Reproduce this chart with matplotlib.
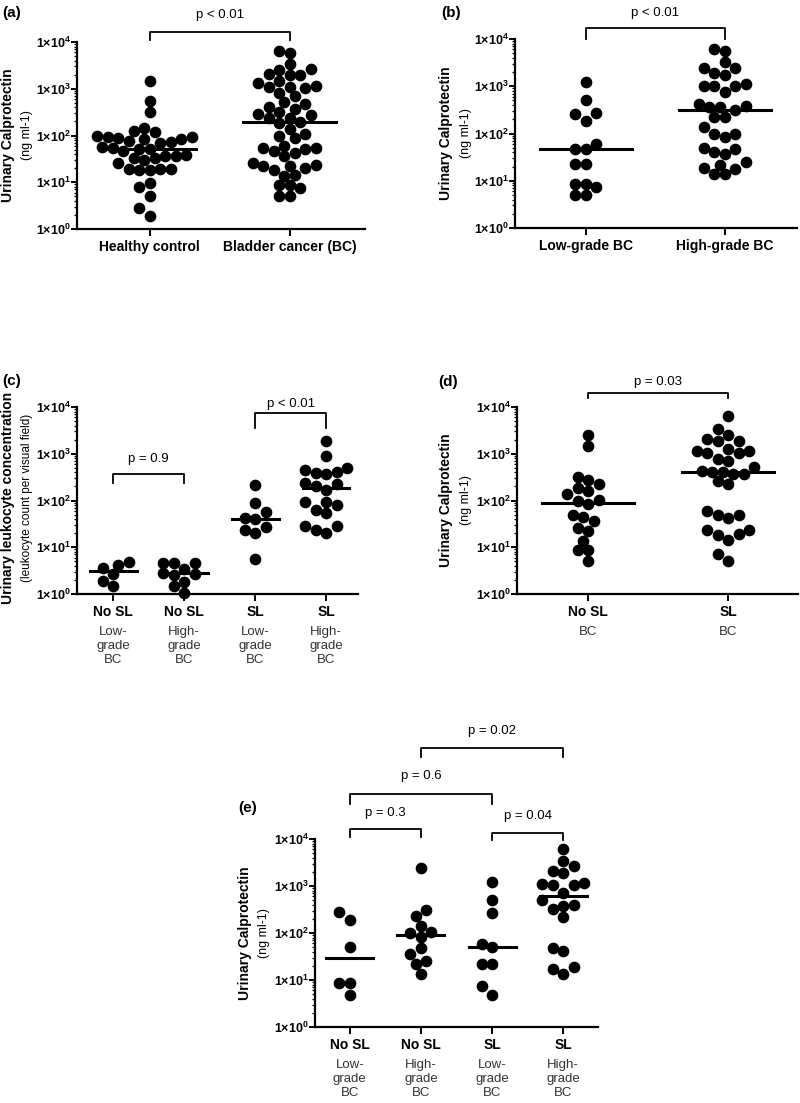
import numpy as np
import matplotlib
matplotlib.use("Agg")
import matplotlib.pyplot as plt
from matplotlib.ticker import FixedLocator, LogLocator, NullFormatter

plt.rcParams['font.family'] = ['Liberation Sans', 'DejaVu Sans']
plt.rcParams['mathtext.fontset'] = 'custom'
plt.rcParams['mathtext.rm'] = 'Liberation Sans'
plt.rcParams['mathtext.bf'] = 'Liberation Sans:bold'

W, H = 800, 1103   # output size in pixels (dpi 100)

# ---- values (ng/ml or cells per field)
a_healthy = [1465, 547, 313, 142, 127, 117, 98, 94, 94, 89, 84, 84, 76, 71, 70, 56, 55,
             51, 51, 47, 38, 36.5, 36.5, 32.6, 32.6, 30, 26, 19.2, 19.2, 19.2, 18.3, 18.3,
             9.5, 7.8, 5.1, 2.77, 1.93]
a_bc = [6420, 5720, 3380, 2650, 2520, 2070, 1960, 1960, 1465, 1306, 1165, 1100, 1070, 1050,
        800, 700, 512, 464, 413, 369, 324, 289, 274, 233, 233, 195, 185, 135, 108, 97, 87,
        61, 53, 53, 50.4, 47, 43, 36.6, 26, 23.4, 22.3, 22.3, 20, 18.3, 14.3, 13.9, 8.7,
        8.7, 7.4, 5.1, 5.1]

b_low = [1260, 515, 275, 260, 180, 60, 48, 48, 22.5, 22.5, 8.7, 8.7, 7.2, 4.9, 4.9]
b_high = [6100, 5500, 3200, 2400, 2400, 1950, 1750, 1120, 1000, 1000, 1000, 770, 420, 380,
          360, 360, 320, 220, 220, 135, 100, 98, 83, 50, 46, 41, 37, 25, 22, 19, 17.5, 14, 14]

c_nosl_low = [4.8, 4.25, 3.6, 2.7, 1.87, 1.46]
c_nosl_high = [4.7, 4.6, 4.6, 3.4, 2.8, 2.7, 2.6, 1.8, 1.5, 1.05]
c_sl_low = [215, 90, 58, 42, 40, 27, 23.5, 20, 5.5]
c_sl_high = [1830, 900, 490, 440, 400, 390, 370, 240, 220, 200, 170, 95, 95, 80, 63, 55,
             29, 28, 23, 20]

d_nosl = [2570, 1440, 320, 280, 230, 185, 158, 140, 104, 96, 85, 50, 44, 36, 26, 22, 13.4,
          8.6, 8.6, 5]
d_sl = [6300, 3400, 2570, 2080, 1860, 1860, 1260, 1130, 1130, 1040, 1040, 770, 690, 520,
        420, 400, 400, 360, 360, 260, 220, 59, 50, 50, 42, 23, 23, 19, 18, 14, 7.3, 5]

e_nosl_low = [280, 185, 50, 8.6, 8.6, 4.9]
e_nosl_high = [2450, 315, 225, 138, 105, 100, 82, 47, 36, 25, 22, 13.6]
e_sl_low = [1240, 500, 260, 59, 50, 22, 22, 7.3, 4.9]
e_sl_high = [6200, 3400, 2600, 2100, 1900, 1150, 1100, 1050, 1050, 700, 500, 400, 370, 330,
             220, 49, 42, 19, 17.4, 13.6]

ab_labels = ["Healthy control", "Bladder cancer (BC)"]
b_labels = ["Low-grade BC", "High-grade BC"]
sl_labels = ["No SL", "No SL", "SL", "SL"]
grade_labels = ["Low-\ngrade\nBC", "High-\ngrade\nBC", "Low-\ngrade\nBC", "High-\ngrade\nBC"]
d_labels = ["No SL", "SL"]
d_sub = ["BC", "BC"]

yticks = [1, 10, 100, 1000, 10000]
ytick_labels = [r'$\mathbf{1{\times}10^{%d}}$' % k for k in range(5)]

fig = plt.figure(figsize=(W / 100, H / 100), dpi=100)


def add_axes(l, t, r, b):
    return fig.add_axes([l / W, 1 - b / H, (r - l) / W, (b - t) / H])


def setup(ax, ncat, xlim, labels):
    ax.set_yscale('log')
    ax.set_ylim(1, 1e4)
    ax.set_xlim(*xlim)
    for s in ('top', 'right'):
        ax.spines[s].set_visible(False)
    for s in ('left', 'bottom'):
        ax.spines[s].set_linewidth(1.6)
    ax.yaxis.set_major_locator(FixedLocator(yticks))
    ax.set_yticklabels(ytick_labels, fontsize=9)
    ax.yaxis.set_minor_locator(LogLocator(base=10, subs=np.arange(2, 10)))
    ax.yaxis.set_minor_formatter(NullFormatter())
    ax.tick_params(axis='y', which='major', length=4, width=1.4, pad=0.5)
    ax.tick_params(axis='y', which='minor', length=2.5, width=0.9)
    ax.set_xticks(range(ncat))
    ax.set_xticklabels(labels, fontsize=10, fontweight='bold')
    ax.tick_params(axis='x', length=5, width=1.4, pad=3)


def swarm(ax, xc, vals, d_px=10.5):
    vals = np.sort(np.asarray(vals, dtype=float))
    pts = ax.transData.transform(np.column_stack([np.full(len(vals), xc), vals]))
    cands = [0.0]
    for k in range(1, 40):
        cands += [-k * d_px / 2, k * d_px / 2]
    placed = []
    for px_, py_ in pts:
        for off in cands:
            x = px_ + off
            if all((x - qx) ** 2 + (py_ - qy) ** 2 >= (0.97 * d_px) ** 2 for qx, qy in placed):
                break
        placed.append((x, py_))
    back = ax.transData.inverted().transform(np.array(placed))
    ax.plot(back[:, 0], back[:, 1], 'o', ms=7.4, color='black', mec='black',
            clip_on=False, zorder=3)
    med = np.median(vals)
    ax.plot([xc - 0.33, xc + 0.33], [med, med], color='black', lw=2.2, zorder=4)


def bracket(ax, x0, x1, ytop, ybot, ylab, label):
    tr = ax.get_xaxis_transform()
    ax.plot([x0, x0, x1, x1], [ybot, ytop, ytop, ybot], color='black', lw=1.3,
            transform=tr, clip_on=False)
    ax.text((x0 + x1) / 2, ylab, label, transform=tr, ha='center', va='center',
            fontsize=9.5)


def sublabels(ax, texts):
    for i, t in enumerate(texts):
        ax.annotate(t, xy=(i, 0), xycoords=ax.get_xaxis_transform(), xytext=(0, -23),
                    textcoords='offset points', ha='center', va='top', fontsize=9.5,
                    linespacing=1.2, color='#333333')


def ylabel(x1, x2, yc, main, sub, fs=10, fs2=9):
    fig.text(x1 / W, 1 - yc / H, main, rotation=90, ha='center', va='center',
             fontsize=fs, fontweight='bold')
    fig.text(x2 / W, 1 - yc / H, sub, rotation=90, ha='center', va='center',
             fontsize=fs2)


# ---- (a)
ax = add_axes(77, 42, 365, 229)
setup(ax, 2, (-0.52, 1.54), ab_labels)
swarm(ax, 0, a_healthy)
swarm(ax, 1, a_bc)
bracket(ax, 0, 1, 1.053, 1.011, 1.144, "p < 0.01")
ylabel(8, 27, 135, "Urinary Calprotectin", "(ng ml-1)")
fig.text(12 / W, 1 - 13 / H, "(a)", ha='center', va='center', fontsize=11, fontweight='bold')

# ---- (b)
ax = add_axes(515, 39, 797, 228)
setup(ax, 2, (-0.51, 1.52), b_labels)
swarm(ax, 0, b_low)
swarm(ax, 1, b_high)
bracket(ax, 0, 1, 1.058, 1.0, 1.14, "p < 0.01")
ylabel(446, 466, 133, "Urinary Calprotectin", "(ng ml-1)")
fig.text(451 / W, 1 - 13 / H, "(b)", ha='center', va='center', fontsize=11, fontweight='bold')

# ---- (c)
ax = add_axes(77, 407, 358, 594)
setup(ax, 4, (-0.51, 3.45), sl_labels)
swarm(ax, 0, c_nosl_low)
swarm(ax, 1, c_nosl_high)
swarm(ax, 2, c_sl_low)
swarm(ax, 3, c_sl_high)
sublabels(ax, grade_labels)
bracket(ax, 0, 1, 0.642, 0.594, 0.722, "p = 0.9")
bracket(ax, 2, 3, 0.968, 0.888, 1.016, "p < 0.01")
ylabel(8, 27, 498, "Urinary leukocyte concentration", "(leukocyte count per visual field)",
       fs=10, fs2=8.5)
fig.text(12 / W, 1 - 381 / H, "(c)", ha='center', va='center', fontsize=11, fontweight='bold')

# ---- (d)
ax = add_axes(517, 407, 798, 594)
setup(ax, 2, (-0.51, 1.5), d_labels)
swarm(ax, 0, d_nosl)
swarm(ax, 1, d_sl)
sublabels(ax, d_sub)
bracket(ax, 0, 1, 1.075, 1.048, 1.134, "p = 0.03")
ylabel(446, 466, 500, "Urinary Calprotectin", "(ng ml-1)")
fig.text(448 / W, 1 - 382 / H, "(d)", ha='center', va='center', fontsize=11, fontweight='bold')

# ---- (e)
ax = add_axes(315, 839, 598, 1027)
setup(ax, 4, (-0.49, 3.49), sl_labels)
swarm(ax, 0, e_nosl_low)
swarm(ax, 1, e_nosl_high)
swarm(ax, 2, e_sl_low)
swarm(ax, 3, e_sl_high)
sublabels(ax, grade_labels)
bracket(ax, 0, 1, 1.053, 1.011, 1.138, "p = 0.3")
bracket(ax, 2, 3, 1.032, 0.995, 1.122, "p = 0.04")
bracket(ax, 0, 2, 1.239, 1.186, 1.335, "p = 0.6")
bracket(ax, 1, 3, 1.484, 1.436, 1.574, "p = 0.02")
ylabel(245, 264, 933, "Urinary Calprotectin", "(ng ml-1)")
fig.text(248 / W, 1 - 808 / H, "(e)", ha='center', va='center', fontsize=11, fontweight='bold')

fig.savefig("out.png", dpi=100)
